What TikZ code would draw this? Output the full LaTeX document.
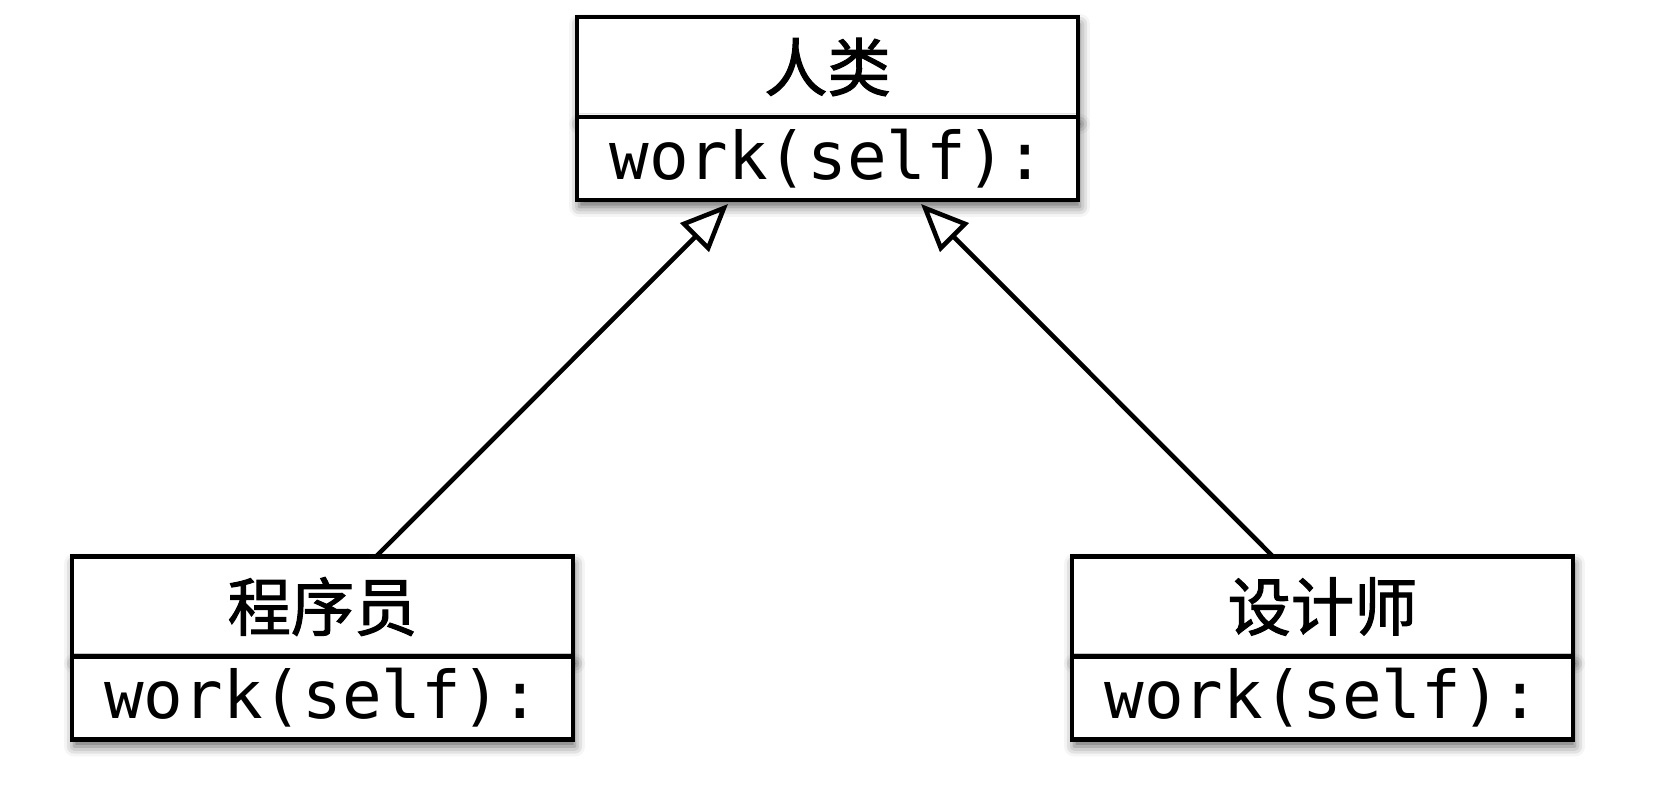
\documentclass[tikz,border=0pt]{standalone}
\usepackage{fontspec}
\setmonofont{DejaVu Sans Mono}
\newfontfamily\cjk[FakeBold=1.6]{Noto Sans CJK SC}
\usetikzlibrary{arrows.meta,shadows.blur}

\tikzset{
  umlbox/.style={draw, line width=2.6pt, fill=white, inner sep=0pt, outer sep=0pt,
    minimum width=10.02cm,
    blur shadow={shadow xshift=0.04cm, shadow yshift=-0.14cm, shadow blur radius=0.2cm, shadow opacity=60}},
  classname/.style={umlbox, minimum height=2cm, font=\cjk\fontsize{36}{40}\selectfont},
  classop/.style={umlbox, minimum height=1.66cm, anchor=north, font=\ttfamily\fontsize{37.5}{42}\selectfont},
  inherit/.style={line width=2.6pt, -{Triangle[open, length=0.95cm, width=0.8cm, line width=2.6pt]}}
}

\begin{document}
\begin{tikzpicture}[x=0.02cm, y=-0.02cm]
\useasboundingbox (0,0) rectangle (1660,785);

\node [classname] (H) at (827.5,67) {人类};
\node [classop] (Hw) at (H.south) {work(self):};
\node [classname] (P) at (322.5,606.5) {程序员};
\node [classop] (Pw) at (P.south) {work(self):};
\node [classname] (D) at (1322.5,606.5) {设计师};
\node [classop] (Dw) at (D.south) {work(self):};

\path [inherit] ([xshift=1.07cm]P.north) edge ([xshift=-1.99cm,yshift=-0.08cm]Hw.south);
\path [inherit] ([xshift=-0.99cm]D.north) edge ([xshift=1.87cm,yshift=-0.08cm]Hw.south);
\end{tikzpicture}
\end{document}
